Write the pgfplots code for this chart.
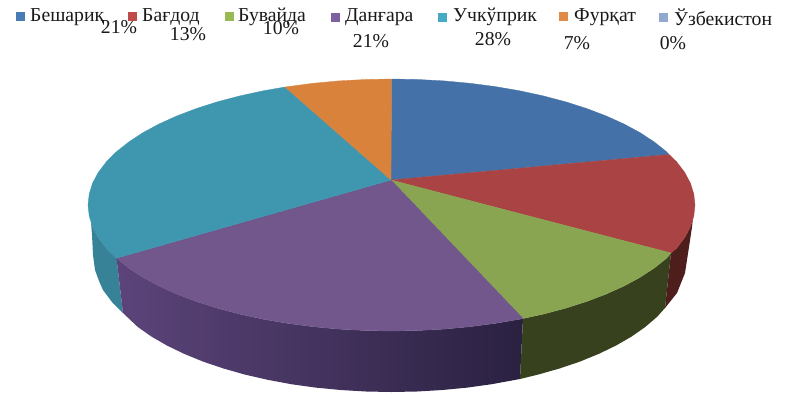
\documentclass[border=0pt]{standalone}
\usepackage{pgfplots}
\pgfplotsset{compat=1.18}
\usepackage{fontspec}
\setmainfont{Liberation Serif}
\definecolor{cB}{RGB}{68,113,167}
\definecolor{cR}{RGB}{170,67,67}
\definecolor{cG}{RGB}{138,165,82}
\definecolor{cP}{RGB}{113,87,140}
\definecolor{cT}{RGB}{63,150,175}
\definecolor{cO}{RGB}{217,130,60}
\definecolor{lB}{RGB}{73,124,182}
\definecolor{lR}{RGB}{190,75,72}
\definecolor{lG}{RGB}{152,185,84}
\definecolor{lP}{RGB}{125,96,160}
\definecolor{lT}{RGB}{70,170,197}
\definecolor{lO}{RGB}{225,140,70}
\definecolor{lU}{RGB}{146,169,207}
\definecolor{sT}{RGB}{55,130,150}
\definecolor{sPl}{RGB}{92,68,122}
\definecolor{sPr}{RGB}{42,33,65}
\definecolor{sG}{RGB}{55,65,30}
\definecolor{sR}{RGB}{78,30,28}
\begin{document}
\begin{tikzpicture}
\begin{axis}[
  name=pie,
  width=791pt,height=404pt,scale only axis,
  xmin=0,xmax=791,ymin=0,ymax=404,y dir=reverse,
  axis lines=none,clip=true]
% side faces
\addplot[draw=none,fill=sT,forget plot] coordinates {
(116.5,258.2)(106.3,248.1)(98.3,237.6)(92.6,226.9)(91,222)(92,235)(93,255)(95,270)(99,281)(103,290)(112,302)(123,313)} --cycle;
\addplot[draw=none,left color=sPl,right color=sPr,forget plot] coordinates {
(523,318.5)(519.8,319.2)(495.3,323.4)(470,326.7)(444.2,329.1)(418,330.5)(391.5,331)(365,330.5)(338.8,329.1)(313,326.7)(287.7,323.4)(263.2,319.2)(239.8,314.1)(217.4,308.2)(196.4,301.5)(176.9,294.1)(159,286)(142.9,277.3)(128.7,268)(116.5,258.2)(123,313)(137.8,327)(151.5,336.6)(167.1,345.6)(184.3,353.9)(203.1,361.6)(223.5,368.5)(245,374.6)(267.7,379.8)(291.3,384.2)(315.7,387.6)(340.6,390)(366,391.5)(391.5,392)(417,391.5)(442.4,390)(467.3,387.6)(491.7,384.2)(520,379)} --cycle;
\addplot[draw=none,fill=sG,forget plot] coordinates {
(671,253)(666.6,258.2)(654.3,268)(640.1,277.3)(624,286)(606.1,294.1)(586.6,301.5)(565.6,308.2)(543.3,314.1)(523,318.5)(520,379)(538,374.6)(559.5,368.5)(579.9,361.6)(598.7,353.9)(615.9,345.6)(631.5,336.6)(645.2,327)(657,316.9)(665,308)} --cycle;
\addplot[draw=none,fill=sR,forget plot] coordinates {
(671,253)(676.7,248.1)(684.7,237.6)(690.4,226.9)(693,218)(692,227)(689,247)(685,273)(677,293)(665,308)} --cycle;
% top faces
\addplot[cB,fill=cB,line width=0.3pt,forget plot] coordinates {
(391,180)(391.5,79)(418,79.5)(444.2,80.9)(470,83.3)(495.3,86.6)(519.8,90.8)(543.3,95.9)(565.6,101.8)(586.6,108.5)(606.1,115.9)(624,124)(640.1,132.7)(654.3,142)(666.6,151.8)(669,154.5)} --cycle;
\addplot[cR,fill=cR,line width=0.3pt,forget plot] coordinates {
(391,180)(669,154.5)(676.7,161.9)(684.7,172.4)(690.4,183.1)(693.8,194)(695,205)(693.8,216)(690.4,226.9)(684.7,237.6)(676.7,248.1)(671,253)} --cycle;
\addplot[cG,fill=cG,line width=0.3pt,forget plot] coordinates {
(391,180)(671,253)(666.6,258.2)(654.3,268)(640.1,277.3)(624,286)(606.1,294.1)(586.6,301.5)(565.6,308.2)(543.3,314.1)(523,318.5)} --cycle;
\addplot[cP,fill=cP,line width=0.3pt,forget plot] coordinates {
(391,180)(523,318.5)(519.8,319.2)(495.3,323.4)(470,326.7)(444.2,329.1)(418,330.5)(391.5,331)(365,330.5)(338.8,329.1)(313,326.7)(287.7,323.4)(263.2,319.2)(239.8,314.1)(217.4,308.2)(196.4,301.5)(176.9,294.1)(159,286)(142.9,277.3)(128.7,268)(116.5,258.2)} --cycle;
\addplot[cT,fill=cT,line width=0.3pt,forget plot] coordinates {
(391,180)(116.5,258.2)(106.3,248.1)(98.3,237.6)(92.6,226.9)(89.2,216)(88,205)(89.2,194)(92.6,183.1)(98.3,172.4)(106.3,161.9)(116.4,151.8)(128.7,142)(142.9,132.7)(159,124)(176.9,115.9)(196.4,108.5)(217.4,101.8)(239.8,95.9)(263.2,90.8)(285,87)} --cycle;
\addplot[cO,fill=cO,line width=0.3pt,forget plot] coordinates {
(391,180)(285,87)(313,83.3)(338.8,80.9)(365,79.5)(391.5,79)} --cycle;
% legend keys
\addplot[only marks,mark=square*,mark size=4pt,lB,forget plot] coordinates {(20,16)};
\addplot[only marks,mark=square*,mark size=4pt,lR,forget plot] coordinates {(132,16)};
\addplot[only marks,mark=square*,mark size=4pt,lG,forget plot] coordinates {(229,16)};
\addplot[only marks,mark=square*,mark size=4pt,lP,forget plot] coordinates {(335,17)};
\addplot[only marks,mark=square*,mark size=4pt,lT,forget plot] coordinates {(442,17)};
\addplot[only marks,mark=square*,mark size=4pt,lO,forget plot] coordinates {(563,16)};
\addplot[only marks,mark=square*,mark size=4pt,lU,forget plot] coordinates {(663,17)};
\tikzset{lg/.style={anchor=west,inner sep=0pt,font=\fontsize{19.7}{22}\selectfont,text=black!90},
         pc/.style={anchor=center,inner sep=0pt,font=\fontsize{19.7}{22}\selectfont,text=black!90}}
\node[lg] at (axis cs:30,17) {Бешариқ};
\node[lg] at (axis cs:142,17) {Бағдод};
\node[lg] at (axis cs:238,17) {Бувайда};
\node[lg] at (axis cs:345,17) {Данғара};
\node[lg] at (axis cs:453,17) {Учкўприк};
\node[lg] at (axis cs:574,17) {Фурқат};
\node[lg] at (axis cs:674,17) {Ўзбекистон};
\node[pc] at (axis cs:119,27) {21\%};
\node[pc] at (axis cs:188,34) {13\%};
\node[pc] at (axis cs:281,28) {10\%};
\node[pc] at (axis cs:371,41) {21\%};
\node[pc] at (axis cs:493,39) {28\%};
\node[pc] at (axis cs:577,43) {7\%};
\node[pc] at (axis cs:673,43) {0\%};
\end{axis}
\path (pie.south west) rectangle (pie.north east);
\end{tikzpicture}
\end{document}
